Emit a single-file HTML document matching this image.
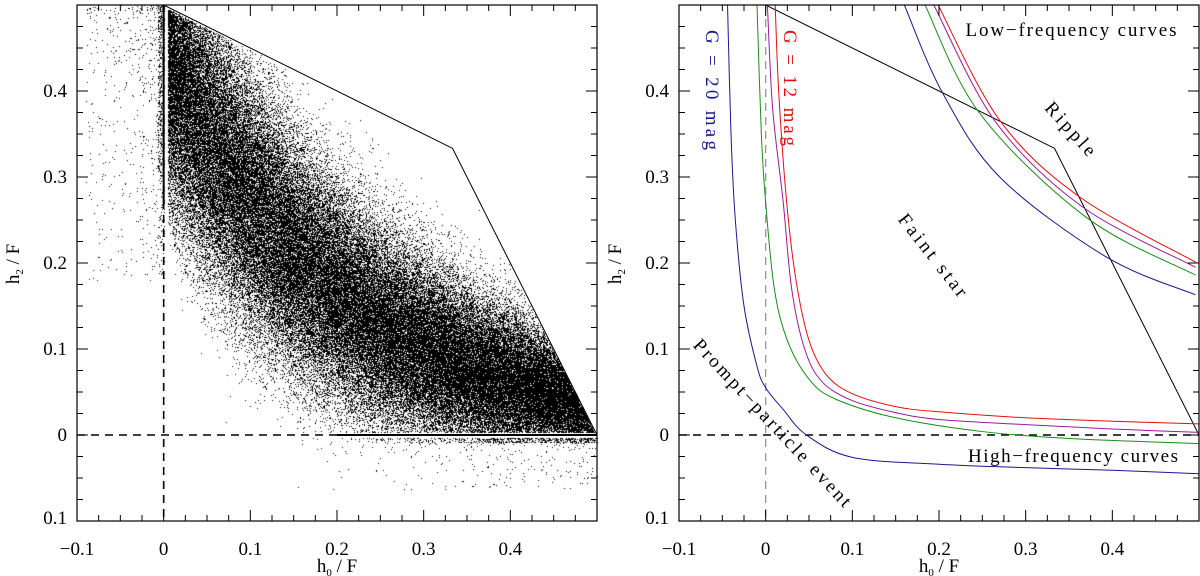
<!DOCTYPE html>
<html><head><meta charset="utf-8"><style>
html,body{margin:0;padding:0;background:#fff;}
#wrap{position:relative;width:1200px;height:576px;overflow:hidden;}
canvas{position:absolute;left:0;top:0;}
svg{position:absolute;left:0;top:0;}
text{font-family:"Liberation Serif",serif;}
</style></head><body>
<div id="wrap">
<canvas id="cv" width="1200" height="576"></canvas>
<svg id="sv" width="1200" height="576"></svg>
</div>
<script>
// ---- data ----
const xTicks = [-0.1, 0, 0.1, 0.2, 0.3, 0.4];
const xTickLabels = ["\u22120.1", "0", "0.1", "0.2", "0.3", "0.4"];
const yTicks = [-0.1, 0, 0.1, 0.2, 0.3, 0.4];
const yTickLabels = ["0.1", "0", "0.1", "0.2", "0.3", "0.4"];
const polyH0 = [0, 0.3333, 0.5];
const polyH2 = [0.5, 0.3333, 0];
// high-frequency curves
const hfBlueH0 = [-0.044,-0.040,-0.035,-0.025,-0.010,0,0.020,0.047,0.1,0.2,0.3,0.4,0.5];
const hfBlueH2 = [0.5,0.35,0.25,0.15,0.08,0.055,0.03,0,-0.026,-0.034,-0.038,-0.041,-0.045];
const hfGreenH0 = [-0.010,-0.005,0,0.010,0.025,0.05,0.08,0.15,0.25,0.35,0.5];
const hfGreenH2 = [0.5,0.35,0.27,0.17,0.11,0.065,0.042,0.02,0.004,-0.004,-0.01];
const hfPurpleH0 = [0.002,0.008,0.020,0.030,0.045,0.065,0.1,0.15,0.2,0.3,0.4,0.5];
const hfPurpleH2 = [0.5,0.38,0.273,0.17,0.1,0.062,0.04,0.026,0.018,0.012,0.007,0.003];
const hfRedH0 = [0.011,0.015,0.024,0.035,0.05,0.07,0.1,0.15,0.2,0.3,0.4,0.5];
const hfRedH2 = [0.5,0.4,0.273,0.18,0.11,0.07,0.048,0.033,0.027,0.02,0.016,0.013];
// low-frequency curves
const lfRedH0 = [0.198,0.270,0.362,0.496];
const lfRedH2 = [0.502,0.366,0.277,0.201];
const lfPurpleH0 = [0.194,0.266,0.366,0.496];
const lfPurpleH2 = [0.5,0.363,0.265,0.195];
const lfGreenH0 = [0.183,0.247,0.370,0.496];
const lfGreenH2 = [0.502,0.374,0.253,0.186];
const lfBlueH0 = [0.160,0.204,0.270,0.393,0.496];
const lfBlueH2 = [0.5,0.398,0.3,0.207,0.163];

const NS="http://www.w3.org/2000/svg";
const sv=document.getElementById('sv');
function el(tag,attrs,parent){const e=document.createElementNS(NS,tag);for(const k in attrs)e.setAttribute(k,attrs[k]);(parent||sv).appendChild(e);return e;}

const panels=[{ox:77,name:'left'},{ox:679,name:'right'}];
const PW=520, TOP=5, BOT=521;
function X(p,v){return p.ox+(v+0.1)*PW/0.6;}
function Y(v){return BOT-(v+0.1)*(BOT-TOP)/0.6;}

const defs=el('defs',{});
panels.forEach((p,i)=>{const c=el('clipPath',{id:'clip'+i},defs);el('rect',{x:p.ox,y:TOP,width:PW,height:BOT-TOP},c);});

function smoothPath(p,xs,ys){
  const pts=xs.map((x,i)=>[X(p,x),Y(ys[i])]);
  let d='M'+pts[0][0]+','+pts[0][1];
  for(let i=0;i<pts.length-1;i++){
    const p0=pts[Math.max(0,i-1)],p1=pts[i],p2=pts[i+1],p3=pts[Math.min(pts.length-1,i+2)];
    const c1=[p1[0]+(p2[0]-p0[0])/6,p1[1]+(p2[1]-p0[1])/6];
    const c2=[p2[0]-(p3[0]-p1[0])/6,p2[1]-(p3[1]-p1[1])/6];
    d+=' C'+c1[0]+','+c1[1]+' '+c2[0]+','+c2[1]+' '+p2[0]+','+p2[1];
  }
  return d;
}

// ---- scatter (left panel) ----
const cv=document.getElementById('cv');const ctx=cv.getContext('2d');
const img=ctx.createImageData(1200,576);const buf=img.data;
let st=987654321;
function rnd(){st|=0;st=st+0x6D2B79F5|0;let t=Math.imul(st^st>>>15,1|st);t=t+Math.imul(t^t>>>7,61|t)^t;return((t^t>>>14)>>>0)/4294967296;}
function gauss(){return Math.sqrt(-2*Math.log(rnd()+1e-9))*Math.cos(2*Math.PI*rnd());}
function upper(x){return x<=1/3?0.5-0.5*x:(0.5-x)*2;}
const L=panels[0];
function dot(x,y){const px=Math.round(X(L,x)),py=Math.round(Y(y));if(px<L.ox||px>L.ox+PW||py<TOP||py>BOT)return;const k=(py*1200+px)*4;buf[k]=0;buf[k+1]=0;buf[k+2]=0;buf[k+3]=255;}
for(let n=0;n<115000;n++){
  const x=0.005+Math.pow(rnd(),1.15)*0.495;
  const c=0.45*Math.exp(-x/0.2);const s=0.03+0.06*(1-x/0.5);
  let y=c+s*gauss();
  const lo=0.28*Math.exp(-x/0.075);
  if(y>upper(x)-0.002||y<0.003)continue;
  if(y<lo && rnd()<Math.min(0.95,(lo-y)/0.05))continue;
  if(x>0.15&&x<0.33&&y>upper(x)-0.04&&rnd()<0.6)continue;
  dot(x,y);
}
for(let n=0;n<800;n++){const x=-0.09*Math.pow(rnd(),2.5);const y=0.5-0.32*Math.pow(rnd(),1.5);dot(x,y);}
for(let n=0;n<250;n++){const x=-0.002-0.005*rnd();const y=0.3+rnd()*0.2;dot(x,y);}
for(let n=0;n<350;n++){const x=0.15+0.35*Math.pow(rnd(),0.6);const y=-0.003-0.06*Math.pow(rnd(),2);dot(x,y);}
for(let n=0;n<500;n++){const x=0.2+0.3*Math.pow(rnd(),0.5);const y=-0.003-0.006*rnd();dot(x,y);}
ctx.putImageData(img,0,0);

// ---- panels ----
panels.forEach((p,i)=>{
  const g=el('g',{'clip-path':'url(#clip'+i+')'});
  
  
  const hz=el('line',{x1:p.ox,x2:p.ox+PW,y1:Y(0),y2:Y(0),stroke:'#000','stroke-width':1.6,'stroke-dasharray':'8,6'},g);
  
  const vz=el('line',{x1:X(p,0),x2:X(p,0),y1:TOP,y2:BOT,stroke:i?'#999':'#000','stroke-width':i?1.4:1.6,'stroke-dasharray':'8,6'},g);
  
  const pl=el('polyline',{points:polyH0.map((v,k)=>X(p,v)+','+Y(polyH2[k])).join(' '),fill:'none',stroke:'#000','stroke-width':1},g);
  
  if(i===0){
    const s1=el('line',{x1:X(p,0),x2:X(p,0),y1:Y(0.5),y2:Y(0.27),stroke:'#000','stroke-width':2},g);
    
    const s2=el('line',{x1:X(p,0.2),x2:X(p,0.5),y1:Y(0),y2:Y(0),stroke:'#000','stroke-width':2},g);
    
  } else {
    const curves=[[hfBlueH0,hfBlueH2,'#1a1a8c','hf-curve-g20'],[hfGreenH0,hfGreenH2,'#1a8c1a','hf-curve-green'],[hfPurpleH0,hfPurpleH2,'#a0179a','hf-curve-purple'],[hfRedH0,hfRedH2,'#e01010','hf-curve-g12'],
      [lfBlueH0,lfBlueH2,'#1a1a8c','lf-curve-g20'],[lfGreenH0,lfGreenH2,'#1a8c1a','lf-curve-green'],[lfPurpleH0,lfPurpleH2,'#a0179a','lf-curve-purple'],[lfRedH0,lfRedH2,'#e01010','lf-curve-g12']];
    curves.forEach(c=>{const pa=el('path',{d:smoothPath(p,c[0],c[1]),fill:'none',stroke:c[2],'stroke-width':1},g);
      });
  }
  const fr=el('rect',{x:p.ox,y:TOP,width:PW,height:BOT-TOP,fill:'none',stroke:'#000','stroke-width':1.2});
  
  for(let k=1;k<24;k++){
    const v=-0.1+k*0.025;const major=k%4===0;const len=major?11:6;
    const x=X(p,v),y=Y(v);
    el('line',{x1:x,x2:x,y1:BOT,y2:BOT-len,stroke:'#000','stroke-width':1});
    el('line',{x1:x,x2:x,y1:TOP,y2:TOP+len,stroke:'#000','stroke-width':1});
    el('line',{x1:p.ox,x2:p.ox+len,y1:y,y2:y,stroke:'#000','stroke-width':1});
    el('line',{x1:p.ox+PW,x2:p.ox+PW-len,y1:y,y2:y,stroke:'#000','stroke-width':1});
  }
  xTicks.forEach((v,k)=>{const t=el('text',{x:X(p,v),y:555,'font-size':19,'text-anchor':'middle'});t.textContent=xTickLabels[k];
    });
  yTicks.forEach((v,k)=>{const t=el('text',{x:p.ox-10,y:Y(v)+(k===0?3:6),'font-size':19,'text-anchor':'end'});t.textContent=yTickLabels[k];
    });
  const xt=el('text',{x:p.ox+PW/2,y:572,'font-size':19,'text-anchor':'middle'});
  xt.innerHTML='h<tspan font-size="11" dy="4">0</tspan><tspan dy="-4">  /  F</tspan>';
  
  const yt=el('text',{x:0,y:0,'font-size':19,'text-anchor':'middle',transform:'translate('+(p.ox-58)+',264) rotate(-90)'});
  yt.innerHTML='h<tspan font-size="11" dy="4">2</tspan><tspan dy="-4">  /  F</tspan>';
  
});

function ann(txt,x,y,rot,color,name,len){const t=el('text',{x:0,y:0,'font-size':19,fill:color,'text-anchor':'middle',textLength:len,lengthAdjust:'spacing',transform:'translate('+x+','+y+') rotate('+rot+')'});t.textContent=txt;
  }
ann('G = 20 mag',706,90,90,'#1a1a8c','label-g20',120);
ann('G = 12 mag',784,88,90,'#e01010','label-g12',116);
ann('Low\u2212frequency curves',1071,36,0,'#000','label-low-frequency',211);
ann('High\u2212frequency curves',1073,462,0,'#000','label-high-frequency',210);
ann('Ripple',1066,133,48,'#000','label-ripple',66);
ann('Faint star',928,259,52,'#000','label-faint-star',100);
ann('Prompt\u2212particle event',768,427,47,'#000','label-prompt-particle',222);
</script>
</body></html>
